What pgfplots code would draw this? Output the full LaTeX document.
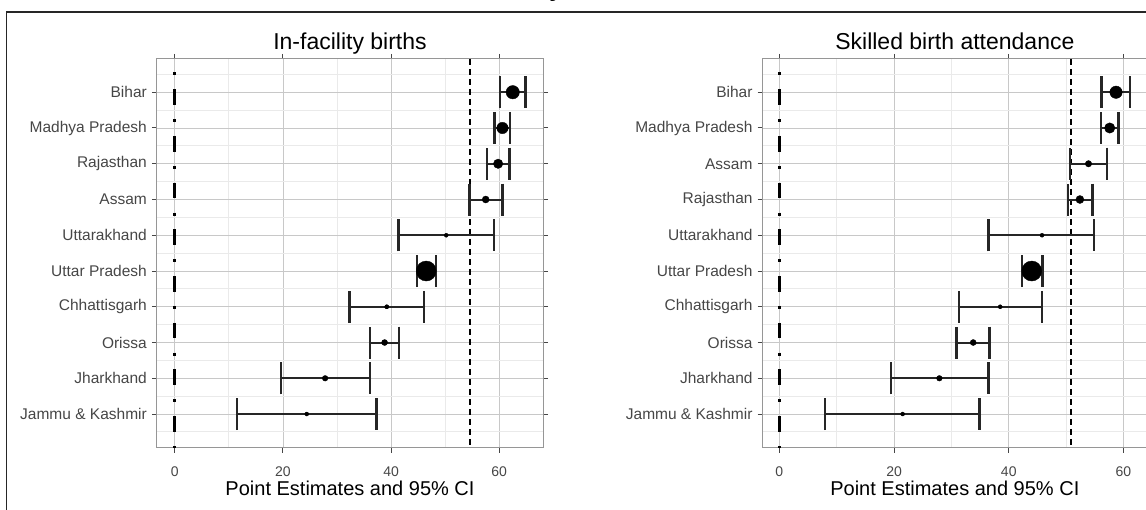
\documentclass[border=0pt]{standalone}
\usepackage{pgfplots}
\pgfplotsset{compat=1.18}
\usepackage{pgfplotstable}
\usepackage{fontspec}
\setmainfont{Liberation Sans}

% y: row (10 = top), x: point estimate, lo/hi: 95% CI, r: marker radius (pt)
\pgfplotstableread{
y x lo hi r
10 62.5 60.1 64.9 6.7
9 60.6 59.1 62.0 5.7
8 59.8 57.7 61.9 4.7
7 57.5 54.5 60.6 3.5
6 50.2 41.4 59.0 1.4
5 46.5 44.8 48.3 10
4 39.2 32.3 46.1 2.0
3 38.8 36.1 41.5 3.0
2 27.8 19.6 36.1 2.8
1 24.4 11.5 37.3 1.4
}\facility

\pgfplotstableread{
y x lo hi r
10 58.7 56.2 61.1 6.2
9 57.6 56.1 59.1 5.2
8 53.9 50.7 57.1 3.2
7 52.4 50.3 54.6 4.0
6 45.8 36.5 54.9 1.4
5 44.0 42.3 45.9 10
4 38.5 31.3 45.8 1.9
3 33.8 30.9 36.6 3.0
2 27.9 19.5 36.5 2.8
1 21.5 8.0 34.9 1.4
}\skilled

\definecolor{gridmaj}{RGB}{200,200,200}
\definecolor{gridmin}{RGB}{234,234,234}
\definecolor{border}{RGB}{150,150,150}
\definecolor{axtext}{RGB}{70,70,70}

\pgfplotsset{
  panel/.style={
    scale only axis,
    anchor=south west,
    height=389pt,
    ymin=0.05, ymax=10.93,
    ytick={1,...,10},
    minor ytick={0.5,1.5,...,10.5},
    xtick={0,20,40,60},
    minor xtick={10,30,50},
    grid=both,
    major grid style={gridmaj, line width=0.9pt},
    minor grid style={gridmin, line width=0.9pt},
    axis line style={border, line width=1pt},
    tick align=outside,
    major tick length=5pt,
    minor tick length=0pt,
    tick style={axtext, line width=1pt},
    /pgf/number format/assume math mode=true,
    yticklabel style={font=\fontsize{15.5}{18}\selectfont, text=axtext, anchor=east, inner sep=0pt, xshift=-5pt},
    xticklabel style={font=\fontsize{14}{16}\selectfont, text=axtext, anchor=base, inner sep=0pt, yshift=-24pt},
    title style={font=\fontsize{23}{27}\selectfont, at={(axis description cs:0.5,1)}, anchor=base, yshift=3pt},
    xlabel style={font=\fontsize{20}{24}\selectfont, at={(axis description cs:0.5,0)}, anchor=base, yshift=-48pt},
    xlabel={Point Estimates and 95\% CI},
  },
  cibars/.style={only marks, mark=none,
    error bars/.cd, x dir=both, x explicit,
    error mark=|,
    error bar style={line width=2pt, black!85},
    error mark options={line width=2.5pt, mark size=16pt, black!85}},
  pts/.style={only marks, mark=*, black, scatter,
    scatter/use mapped color={draw=black, fill=black},
    visualization depends on={\thisrow{r}\as\rad},
    scatter/@pre marker code/.append style={/tikz/mark size=\rad}},
  zeroline/.style={black, line width=3.3pt, dash pattern=on 3pt off 13.8pt on 15.7pt off 14.2pt, dash phase=33.2pt},
  refline/.style={black, line width=1.8pt, dash pattern=on 6pt off 4pt},
}

\begin{document}
\begin{tikzpicture}
\useasboundingbox (0,0) rectangle (1146pt,510pt);
\draw[black!85, line width=1.5pt] (6.5pt,498pt) rectangle (1160pt,-10pt);
\node[anchor=base, font=\fontsize{24}{28}\selectfont\bfseries, inner sep=0pt] at (556pt,513pt) {y};

\begin{axis}[panel, at={(157pt,62pt)}, width=386pt,
  xmin=-3.3, xmax=68.1,
  title={In-facility births},
  yticklabels={Jammu \& Kashmir, Jharkhand, Orissa, Chhattisgarh, Uttar Pradesh, Uttarakhand, Assam, Rajasthan, Madhya Pradesh, Bihar}]
\addplot[zeroline] coordinates {(0,10.93) (0,0.05)};
\addplot[refline] coordinates {(54.6,10.93) (54.6,0.05)};
\addplot[cibars] table[x=x, y=y, x error plus expr=\thisrow{hi}-\thisrow{x}, x error minus expr=\thisrow{x}-\thisrow{lo}] {\facility};
\addplot[pts] table[x=x, y=y] {\facility};
\end{axis}

\begin{axis}[panel, at={(762.7pt,62pt)}, width=384.3pt,
  xmin=-2.9, xmax=64.1,
  title={Skilled birth attendance},
  yticklabels={Jammu \& Kashmir, Jharkhand, Orissa, Chhattisgarh, Uttar Pradesh, Uttarakhand, Rajasthan, Assam, Madhya Pradesh, Bihar}]
\addplot[zeroline] coordinates {(0,10.93) (0,0.05)};
\addplot[refline] coordinates {(50.8,10.93) (50.8,0.05)};
\addplot[cibars] table[x=x, y=y, x error plus expr=\thisrow{hi}-\thisrow{x}, x error minus expr=\thisrow{x}-\thisrow{lo}] {\skilled};
\addplot[pts] table[x=x, y=y] {\skilled};
\end{axis}
\end{tikzpicture}
\end{document}
